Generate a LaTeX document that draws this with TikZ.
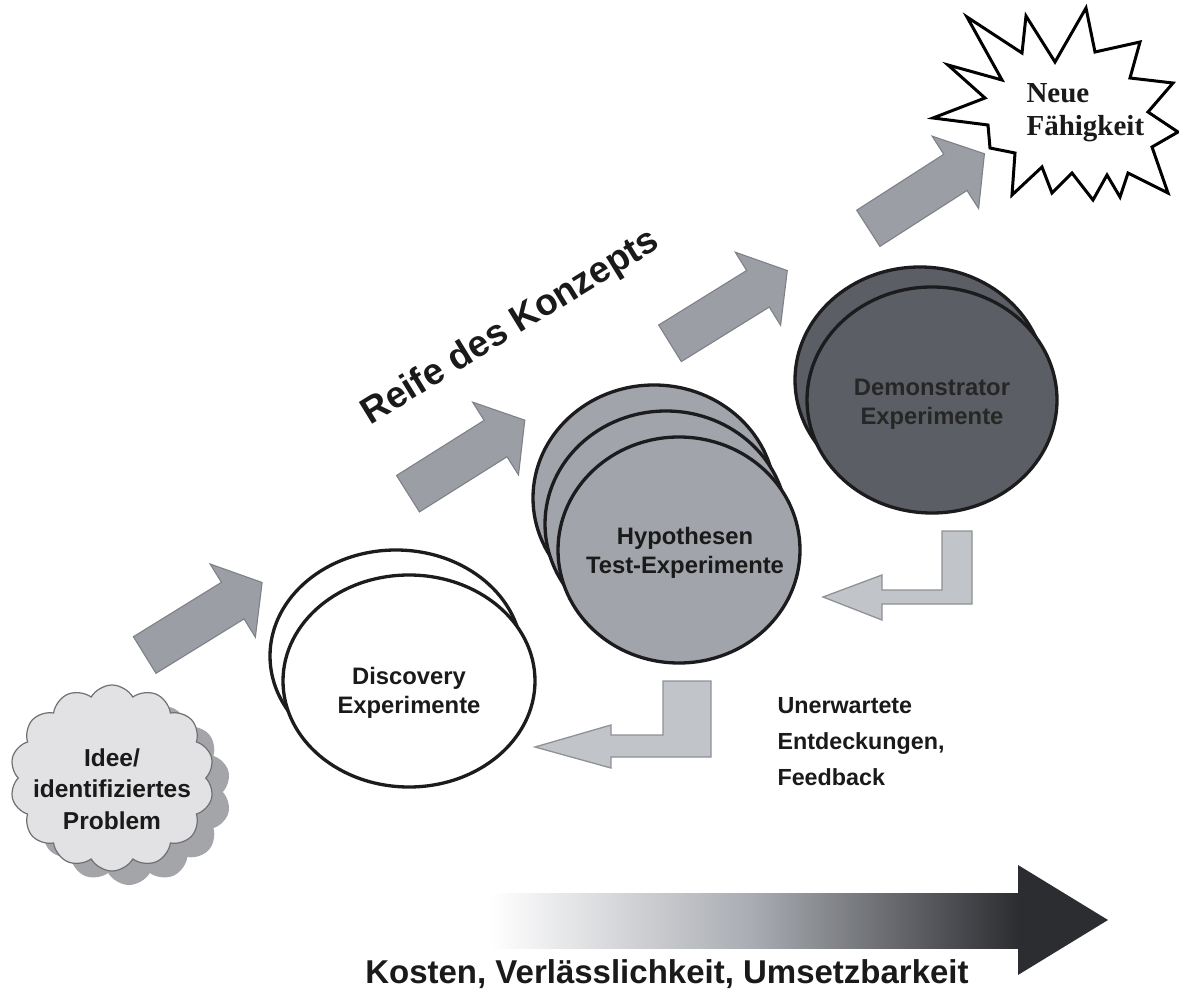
\documentclass[tikz,border=0pt]{standalone}
\usepackage{fontspec}
\newfontfamily\arialf{Liberation Sans}
\newfontfamily\timesf{Liberation Serif}
\usetikzlibrary{shapes.symbols,shapes.geometric}
\definecolor{arrfill}{HTML}{9B9EA5}
\definecolor{arrline}{HTML}{7E8188}
\definecolor{lfill}{HTML}{C1C4C8}
\definecolor{lline}{HTML}{8E9196}
\definecolor{circline}{HTML}{1C1C1E}
\definecolor{hypfill}{HTML}{A1A4AA}
\definecolor{demfill}{HTML}{5B5E64}
\definecolor{cloudfill}{HTML}{E2E2E4}
\definecolor{cloudline}{HTML}{707072}
\definecolor{cloudshadow}{HTML}{A3A5A9}
\definecolor{darkarrow}{HTML}{2C2D31}
\definecolor{midgray}{HTML}{A8ABB1}
\definecolor{txt}{HTML}{1A1A1A}
\tikzset{
  blockarrow/.pic={\draw[fill=arrfill,draw=arrline,line width=1.1]
     (0,-21.5) -- (103.5,-21.5) -- (103.5,-43) -- (138,0) -- (103.5,43)
     -- (103.5,21.5) -- (0,21.5) -- cycle;},
  larrow/.style={fill=lfill,draw=lline,line width=1.3},
  layer/.style={ellipse,draw=circline,line width=3.3,inner sep=0},
  disclayer/.style={layer,fill=white,minimum width=252,minimum height=212},
  hyplayer/.style={layer,fill=hypfill,minimum width=242,minimum height=226},
  demlayer/.style={layer,fill=demfill,minimum width=250,minimum height=226},
  circtext/.style={align=center,text=txt,font=\arialf\bfseries\fontsize{23.8}{29}\selectfont},
  cloudbody/.style={cloud,cloud puffs=14,cloud puff arc=120,minimum width=204,minimum height=186,inner sep=0},
  cloudtext/.style={align=center,text=txt,font=\arialf\bfseries\fontsize{24.5}{31.5}\selectfont},
  bigtext/.style={text=txt,font=\arialf\bfseries\fontsize{33}{36}\selectfont},
}
\begin{document}
\begin{tikzpicture}[x=1pt,y=-1pt]
\useasboundingbox (0,0) rectangle (1179,995);
\fill[white] (0,0) rectangle (1179,995);

% cloud
\node[cloudbody,fill=cloudshadow] (ideashadow) at (129,792) {};
\node[cloudbody,fill=cloudfill,draw=cloudline,line width=1.2] (idea) at (112,778) {};
\node[cloudtext] (ideatext) at (112,789) {Idee/\\identifiziertes\\Problem};

% starburst
\draw[fill=white,draw=black,line width=3,line join=miter] (933,118) -- (985,98) -- (948,65) -- (1002,80) -- (967,17)
 -- (1022,53) -- (1026,16) -- (1055,62) -- (1086,8) -- (1095,52) -- (1140,42)
 -- (1130,78) -- (1173,83) -- (1148,112) -- (1178,132) -- (1152,147) -- (1168,193)
 -- (1128,173) -- (1120,197) -- (1107,175) -- (1093,200) -- (1072,173) -- (1052,193)
 -- (1042,167) -- (1012,195) -- (1015,153) -- (990,148) -- (988,125) -- cycle;
\node[anchor=west,align=left,text=txt,font=\timesf\bfseries\fontsize{29}{33}\selectfont] (newcap) at (1023,113) {Neue\\Fähigkeit};

% block arrows
\pic[rotate=31.7] (a1) at (144.7,655) {blockarrow};
\pic[rotate=32.2] (a2) at (408,493.7) {blockarrow};
\pic[rotate=31.8] (a3) at (670,343.3) {blockarrow};
\pic[rotate=32.7] (a4) at (868.3,228.3) {blockarrow};

\node[bigtext,font=\arialf\bfseries\fontsize{37}{40}\selectfont,anchor=base,rotate=31.5] (reife) at (516,336) {Reife des Konzepts};

% Discovery
\node[disclayer] (disc2) at (396,656) {};
\node[disclayer] (disc1) at (409,681) {};
\node[circtext] (disctext) at (409,693) {Discovery\\Experimente};

% Hypothesen
\node[hyplayer] (hyp3) at (654,498) {};
\node[hyplayer] (hyp2) at (666,524) {};
\node[hyplayer] (hyp1) at (679,550) {};
\node[circtext] (hyptext) at (685,553) {Hypothesen\\Test-Experimente};

% Demonstrator
\node[demlayer] (dem2) at (920,380) {};
\node[demlayer] (dem1) at (932,400) {};
\node[circtext,text=black!85] (demtext) at (932,404) {Demonstrator\\Experimente};

% feedback arrows
\draw[larrow] (663,681) -- (711,681) -- (711,757) -- (611,757) -- (611,768) -- (535,747)
  -- (611,725) -- (611,735) -- (663,735) -- cycle;
\draw[larrow] (942,531) -- (972,531) -- (972,604) -- (882,604) -- (882,620) -- (823,597)
  -- (882,575) -- (882,590) -- (942,590) -- cycle;

\node[anchor=west,align=left,text=txt,font=\arialf\bfseries\fontsize{23.3}{36}\selectfont] (fb) at (774,742) {Unerwartete\\Entdeckungen,\\Feedback};

% bottom gradient arrow
\shade[left color=white,right color=darkarrow,middle color=midgray] (490,893) rectangle (1019,948);
\fill[darkarrow] (1018,865) -- (1108,920) -- (1018,975) -- cycle;
\node[bigtext,anchor=base] (cost) at (667,983) {Kosten, Verlässlichkeit, Umsetzbarkeit};
\end{tikzpicture}
\end{document}
